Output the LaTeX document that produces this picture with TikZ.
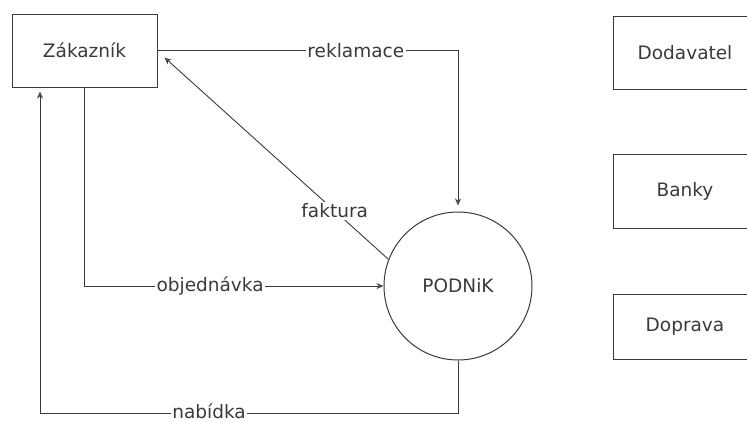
\documentclass[tikz,border=0pt]{standalone}
\usepackage{fontspec}
\setmainfont{DejaVu Sans}
\usetikzlibrary{arrows.meta,calc}
\definecolor{ink}{HTML}{3A3A3A}
\tikzset{
  box/.style={draw=ink, line width=1pt, rectangle, inner sep=0pt},
  flow/.style={draw=ink, line width=0.9pt, -{Stealth[length=7pt,width=6pt,open]}},
  lbl/.style={fill=white, inner sep=1.5pt, text=ink, font=\fontsize{18.5}{22}\selectfont},
  txt/.style={text=ink, font=\fontsize{18.5}{22}\selectfont}
}
\begin{document}
\begin{tikzpicture}[x=1pt,y=-1pt]
\useasboundingbox (0,0) rectangle (747,421);
\clip (0,0) rectangle (747,421);
\node[box, txt, minimum width=145pt, minimum height=73pt] (zak) at (84.5,50.5) {Zákazník};
\node[box, txt, minimum width=144pt, minimum height=73pt] (dod) at (685,52.5) {Dodavatel};
\node[box, txt, minimum width=144pt, minimum height=74pt] (ban) at (685,191) {Banky};
\node[box, txt, minimum width=144pt, minimum height=65pt] (dop) at (685,326.5) {Doprava};
\node[draw=ink, line width=1pt, circle, minimum size=148pt, inner sep=0pt, txt] (pod) at (458,286) {PODNiK};
% reklamace
\draw[flow, shorten >=6pt] (zak.east) -| node[lbl, pos=0.33] {reklamace} (pod.north);
% faktura
\coordinate (fk) at ($(zak.east)+(7,7)$);
\draw[flow] (pod.159) -- node[lbl, pos=0.24] {faktura} (fk);
% objednavka
\draw[flow] (zak.south) |- node[lbl, pos=0.71] {objednávka} (pod.west);
% nabidka
\coordinate (nb) at (40,413);
\draw[flow, shorten >=4pt] (pod.south) |- (nb) -- (zak.south -| nb);
\node[lbl, anchor=base, inner sep=1pt] at (209,418) {nabídka};
\end{tikzpicture}
\end{document}
